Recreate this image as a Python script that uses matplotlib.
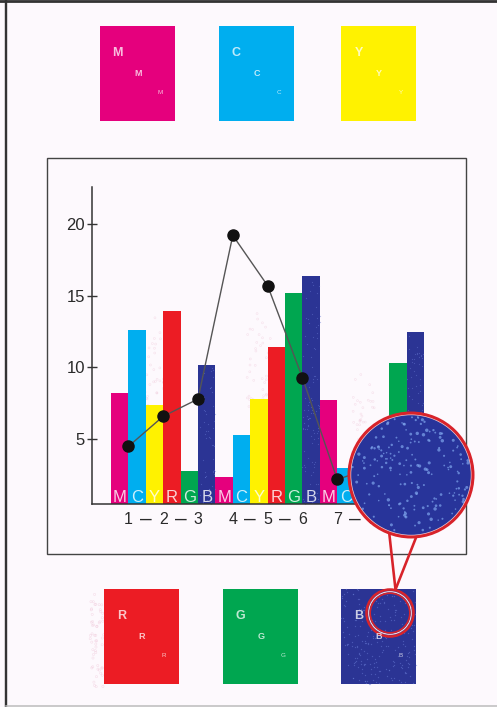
import numpy as np
import matplotlib
matplotlib.use("Agg")
import matplotlib.pyplot as plt
from matplotlib.patches import Rectangle, Circle
from matplotlib.transforms import blended_transform_factory

plt.rcParams['font.family'] = ['Liberation Sans', 'DejaVu Sans']

W, H, DPI = 497, 707, 100
PT = 72.0 / DPI  # points per pixel

# process inks and their colours
inks = ["M", "C", "Y", "R", "G", "B"]
ink_colors = ["#e5007d", "#00aeef", "#fff200", "#ec1c24", "#00a650", "#2b3494"]

# bar heights, one value per group of six bars
m_vals = [8.2, 2.4, 7.7]
c_vals = [12.6, 5.3, 3.0]
y_vals = [7.4, 7.8, 4.2]
r_vals = [13.9, 11.4, 3.6]
g_vals = [2.8, 15.2, 10.3]
b_vals = [10.2, 16.4, 12.5]

# line series, one point per step
step_labels = ["1", "2", "3", "4", "5", "6", "7", "8", "9"]
step_vals = [4.5, 6.6, 7.8, 19.2, 15.7, 9.3, 2.2, 3.0, 4.4]

y_ticks = [5, 10, 15, 20]
y_tick_labels = ["5", "10", "15", "20"]

bg = "#fdf9fd"
text_col = "#2a2a2a"


def grain(n, seed):
    """Hash-based point set on the unit square, used for print grain texture."""
    i = np.arange(1, n + 1, dtype=float) + seed * 1000.0
    u = (np.sin(i * 12.9898) * 43758.5453) % 1.0
    v = (np.sin(i * 78.233) * 24634.6345) % 1.0
    w = (np.sin(i * 39.3467) * 11813.1563) % 1.0
    return u, v, w


fig = plt.figure(figsize=(W / DPI, H / DPI), dpi=DPI, facecolor=bg)

# ---------------- chart axes ----------------
ax_l, ax_r, ax_t, ax_b = 92, 440, 187.3, 504
ax = fig.add_axes([ax_l / W, (H - ax_b) / H, (ax_r - ax_l) / W, (ax_b - ax_t) / H])
ax.set_facecolor("none")

bar_px, first_bar_px = 17.4, 111
ax.set_xlim((ax_l - first_bar_px) / bar_px - 0.5, (ax_r - first_bar_px) / bar_px - 0.5)
ax.set_ylim(0.49, 22.55)

series = [m_vals, c_vals, y_vals, r_vals, g_vals, b_vals]
n_groups = len(m_vals)

# faint pink misregistration haze around the yellow bars
for g in range(n_groups):
    h = y_vals[g]
    u, v, w = grain(40, seed=3 + g)
    ax.scatter(g * 6 + 2 - 0.7 + 1.4 * u, h - 0.6 + 7.5 * v * (0.3 + 0.7 * w),
               s=2.0, facecolors="none", edgecolors="#eab3ca", linewidths=0.4,
               alpha=0.35, zorder=1)

for g in range(n_groups):
    for k, ink in enumerate(inks):
        x = g * 6 + k
        h = series[k][g]
        ax.bar(x, h, width=1.0, color=ink_colors[k], linewidth=0, zorder=2)
        ax.text(x, 0.62, ink, ha="center", va="baseline", fontsize=12,
                color="white", alpha=0.8, zorder=3)
        if ink == "B":
            u, v, w = grain(int(h * 6), seed=0.3 + g)
            ax.scatter(x - 0.5 + u, v * h, s=0.8, color="#6a7cd6", alpha=0.45,
                       linewidths=0, zorder=2.5)

# line with markers at bar boundaries
step_x = [2 * i + 0.5 for i in range(len(step_vals))]
ax.plot(step_x, step_vals, color="#555555", lw=1.0, zorder=4)
ax.plot(step_x, step_vals, "o", color="#111111", markersize=8, zorder=5)

# x labels: step numbers, joined by dashes within each group
ax.set_xticks(step_x)
ax.set_xticklabels(step_labels, fontsize=11.5, color=text_col)
ax.tick_params(axis="x", length=0, pad=6)
dash_tf = blended_transform_factory(ax.transData, ax.transAxes)
for g in range(n_groups):
    for j in range(2):
        ax.text(step_x[g * 3 + j] + 1, -0.049, "\u2013", transform=dash_tf,
                ha="center", va="center", fontsize=15, color=text_col, clip_on=False)

ax.set_yticks(y_ticks)
ax.set_yticklabels(y_tick_labels, fontsize=12, color=text_col)
ax.tick_params(axis="y", direction="inout", length=7, width=1.0, color="#333333", pad=1.5)

for s in ["top", "right"]:
    ax.spines[s].set_visible(False)
for s in ["left", "bottom"]:
    ax.spines[s].set_color("#333333")
    ax.spines[s].set_linewidth(1.1)

# ---------------- page overlay (pixel coordinates) ----------------
ov = fig.add_axes([0, 0, 1, 1], zorder=10)
ov.set_xlim(0, W)
ov.set_ylim(H, 0)
ov.axis("off")

# page edges
ov.plot([0, W], [1, 1], color="#333333", lw=2 * PT * 1.4)
ov.plot([6, 6], [0, H], color="#333333", lw=2 * PT * 1.2)
ov.plot([6, W], [705.5, 705.5], color="#bbbbbb", lw=1.5 * PT)

# chart frame
ov.add_patch(Rectangle((46.7, 158.3), 466 - 46.7, 554.3 - 158.3, fill=False,
                       edgecolor="#444444", lw=1.0))

# pink haze at the left edge of the red swatch
u, v, w = grain(55, seed=9)
ov.scatter(90 + 14 * u, 592 + 95 * v, s=2.5, facecolors="none", edgecolors="#eab3ca",
           linewidths=0.4, alpha=0.4)

# ink swatches
sw_w, sw_h = 75, 95
swatches = [("M", 0, 100, 26), ("C", 1, 218.5, 26), ("Y", 2, 341, 26),
            ("R", 3, 104, 589), ("G", 4, 222.7, 589), ("B", 5, 341, 589)]
for letter, k, x0, y0 in swatches:
    ov.add_patch(Rectangle((x0, y0), sw_w, sw_h, facecolor=ink_colors[k], edgecolor="none"))
    if letter == "B":
        u, v, w = grain(220, seed=5)
        ov.scatter(x0 + u * sw_w, y0 + v * sw_h, s=0.9, color="#6a7cd6", alpha=0.5,
                   linewidths=0)
    for (dx, dy, fs, wt) in [(17.5, 26.6, 9, "bold"), (38, 47.6, 6.5, "bold"), (60, 66.6, 4.5, "normal")]:
        ov.text(x0 + dx, y0 + dy, letter, ha="center", va="center", fontsize=fs,
                fontweight=wt, color="white", alpha=0.75)

# magnifier: small target ring on the blue swatch
tcx, tcy = 390, 613
ov.add_patch(Circle((tcx, tcy), 23.5, fill=False, edgecolor="#d8232a", lw=2.5 * PT))
ov.add_patch(Circle((tcx, tcy), 21.3, fill=False, edgecolor="#f4d6dc", lw=1.2 * PT))
ov.add_patch(Circle((tcx, tcy), 19.8, fill=False, edgecolor="#d8232a", lw=1.6 * PT))

# pointer
mcx, mcy, mr = 411, 475, 62
ov.plot([389, 395.5], [531, 589.5], color="#d8232a", lw=2.6 * PT, solid_capstyle="butt")
ov.plot([419, 395.5], [530, 589.5], color="#d8232a", lw=2.6 * PT, solid_capstyle="butt")

# enlarged view
ov.add_patch(Circle((mcx, mcy), mr, facecolor="#28349a", edgecolor="none", zorder=3))
u, v, w = grain(260, seed=11)
px = mcx - mr + 2 * mr * u
py = mcy - mr + 2 * mr * v
inside = (px - mcx) ** 2 + (py - mcy) ** 2 < (mr - 3) ** 2
sizes = 1.2 + 5.0 * w ** 2
ov.scatter(px[inside], py[inside], s=sizes[inside], color="#7fa6ee", alpha=0.7,
           linewidths=0, zorder=4)
ov.add_patch(Circle((mcx, mcy), mr - 1.5, fill=False, edgecolor="#e9c9d4", lw=1.4 * PT, zorder=5))
ov.add_patch(Circle((mcx, mcy), mr, fill=False, edgecolor="#d8232a", lw=3.0 * PT, zorder=6))

fig.savefig("out.png", dpi=DPI, facecolor=bg)
